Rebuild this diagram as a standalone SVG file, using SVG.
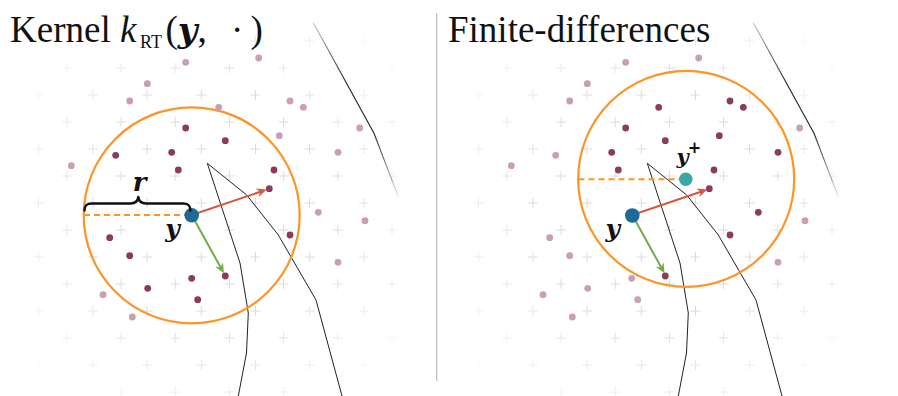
<svg xmlns="http://www.w3.org/2000/svg" xmlns:xlink="http://www.w3.org/1999/xlink" width="898" height="396" viewBox="0 0 898 396">
  <style>
    .title { font-family: "Liberation Serif", "DejaVu Serif", serif; font-size: 37px; fill: #111; }
    .math { font-family: "DejaVu Serif", "Liberation Serif", serif; font-weight: bold; font-style: italic; fill: #111; }
    .grid { fill: none; stroke: #dcdcdc; stroke-width: 1; }
    .contour { fill: none; stroke: #222; stroke-width: 1; stroke-linejoin: round; }
    .dk { fill: #8e3a5a; }
    .lt { fill: #c99fb2; }
    .ball { fill: none; stroke: #fd9426; stroke-width: 2.2; }
    .radius { stroke: #fd9426; stroke-width: 2; stroke-dasharray: 6 4; fill: none; }
    .arr-red { stroke: #d35a3e; stroke-width: 2; fill: none; marker-end: url(#headRed); }
    .arr-green { stroke: #6fae47; stroke-width: 2; fill: none; marker-end: url(#headGreen); }
    .pt-y { fill: #1e6a97; }
    .pt-yp { fill: #37a8a5; }
    .brace { fill: none; stroke: #111; stroke-width: 2.4; stroke-linejoin: round; stroke-linecap: round; }
  </style>
  <defs>
    <path id="rowp" d="M0 0h10m-5-5v10m49.2-5h10m-5-5v10m49.2-5h10m-5-5v10m49.2-5h10m-5-5v10m49.2-5h10m-5-5v10m49.2-5h10m-5-5v10m49.2-5h10m-5-5v10"/>
    <radialGradient id="rg" gradientUnits="userSpaceOnUse" cx="215" cy="210" r="235">
      <stop offset="0" stop-color="#fff"/>
      <stop offset="0.5" stop-color="#fff"/>
      <stop offset="1" stop-color="#222"/>
    </radialGradient>
    <mask id="fade" maskUnits="userSpaceOnUse" x="0" y="0" width="437" height="396">
      <rect x="0" y="0" width="437" height="396" fill="url(#rg)"/>
    </mask>
    <linearGradient id="edgefade" gradientUnits="userSpaceOnUse" x1="313" y1="23" x2="398" y2="197">
      <stop offset="0" stop-color="#222" stop-opacity="0.25"/>
      <stop offset="0.35" stop-color="#222" stop-opacity="1"/>
      <stop offset="0.65" stop-color="#222" stop-opacity="1"/>
      <stop offset="1" stop-color="#222" stop-opacity="0.1"/>
    </linearGradient>
    <marker id="headRed" markerUnits="userSpaceOnUse" markerWidth="12" markerHeight="10" refX="4" refY="5" orient="auto" overflow="visible">
      <path d="M0 0.5L10 5L0 9.5L3 5Z" fill="#d35a3e"/>
    </marker>
    <marker id="headGreen" markerUnits="userSpaceOnUse" markerWidth="12" markerHeight="10" refX="4" refY="5" orient="auto" overflow="visible">
      <path d="M0 0.5L10 5L0 9.5L3 5Z" fill="#6fae47"/>
    </marker>
    <g id="plusgrid">
      <g class="grid" mask="url(#fade)">
        <use href="#rowp" x="33.7" y="41"/>
        <use href="#rowp" x="61.8" y="68"/>
        <use href="#rowp" x="33.7" y="95"/>
        <use href="#rowp" x="61.8" y="122"/>
        <use href="#rowp" x="33.7" y="149"/>
        <use href="#rowp" x="61.8" y="176"/>
        <use href="#rowp" x="33.7" y="203"/>
        <use href="#rowp" x="61.8" y="230"/>
        <use href="#rowp" x="33.7" y="257"/>
        <use href="#rowp" x="61.8" y="284"/>
        <use href="#rowp" x="33.7" y="311"/>
        <use href="#rowp" x="61.8" y="338"/>
        <use href="#rowp" x="33.7" y="365"/>
        <use href="#rowp" x="61.8" y="392"/>
      </g>
    </g>
    <g id="contours">
      <polyline class="contour" points="238.3,396 246.5,353 248.3,313 240,263 207.3,163.3 246.7,195 278.3,235 316,300 342,396"/>
      <polyline points="313.3,22.7 374,133.3 398.3,196.7" fill="none" stroke="url(#edgefade)" stroke-width="1.1"/>
    </g>
  </defs>

  <!-- separator -->
  <line id="separator" x1="436.7" y1="13" x2="436.7" y2="381" stroke="#bdbdbd" stroke-width="1.3"/>

  <!-- ============ LEFT PANEL ============ -->
  <g id="panel-kernel">
    <use href="#plusgrid"/>
    <use href="#contours"/>

    <g id="kernel-ball">
      <circle class="ball" cx="191.7" cy="215.3" r="108"/>
      <line class="radius" x1="84" y1="215" x2="186" y2="215"/>
    </g>

    <g id="samples-left">
      <circle class="lt" cx="185.7" cy="62.3" r="3.4"/>
      <circle class="lt" cx="258.7" cy="58" r="3.4"/>
      <circle class="lt" cx="147.3" cy="83.7" r="3.4"/>
      <circle class="lt" cx="129.7" cy="101" r="3.4"/>
      <circle class="lt" cx="218.7" cy="107.3" r="3.4"/>
      <circle class="lt" cx="290" cy="101" r="3.4"/>
      <circle class="lt" cx="303.3" cy="107.3" r="3.4"/>
      <circle class="lt" cx="359.7" cy="128" r="3.4"/>
      <circle class="lt" cx="279.3" cy="135.7" r="3.4"/>
      <circle class="lt" cx="338" cy="152.3" r="3.4"/>
      <circle class="lt" cx="71.3" cy="165.7" r="3.4"/>
      <circle class="dk" cx="185.7" cy="128" r="3.4"/>
      <circle class="dk" cx="225.3" cy="140.7" r="3.4"/>
      <circle class="dk" cx="115.7" cy="155.3" r="3.4"/>
      <circle class="dk" cx="171.7" cy="152.3" r="3.4"/>
      <circle class="dk" cx="178.3" cy="170" r="3.4"/>
      <circle class="dk" cx="274" cy="170" r="3.4"/>
      <circle class="dk" cx="269.3" cy="188.7" r="3.4"/>
      <circle class="lt" cx="318.3" cy="212.3" r="3.4"/>
      <circle class="lt" cx="365" cy="220.7" r="3.4"/>
      <circle class="dk" cx="109.7" cy="237.7" r="3.4"/>
      <circle class="dk" cx="290" cy="235" r="3.4"/>
      <circle class="dk" cx="129.7" cy="255.7" r="3.4"/>
      <circle class="lt" cx="338" cy="262.3" r="3.4"/>
      <circle class="dk" cx="191.7" cy="278.3" r="3.4"/>
      <circle class="dk" cx="225.3" cy="276" r="3.4"/>
      <circle class="dk" cx="147.7" cy="288.3" r="3.4"/>
      <circle class="lt" cx="103" cy="294.7" r="3.4"/>
      <circle class="dk" cx="197.7" cy="299.7" r="3.4"/>
      <circle class="lt" cx="132.3" cy="317" r="3.4"/>
    </g>

    <g id="connectors-left">
      <line class="arr-red" x1="191.7" y1="215" x2="261" y2="191.5"/>
      <line class="arr-green" x1="191.7" y1="215" x2="221" y2="268.1"/>
    </g>

    <g id="point-y-left">
      <circle class="pt-y" cx="191.7" cy="215.3" r="7.3"/>
      <text class="math" x="172.5" y="237" font-size="25" text-anchor="middle">y</text>
    </g>

    <g id="radius-brace">
      <path class="brace" d="M84.5 210.5C84.5 205.5 86.5 203.5 92 203.5L130.5 203.5C135.5 203.5 137.8 201 138.3 197C138.8 201 141.1 203.5 146.1 203.5L183 203.5C188.5 203.5 190.3 205.5 190.3 210.5"/>
      <text class="math" x="139.5" y="191" font-size="26" text-anchor="middle">r</text>
    </g>

    <text id="title-left" class="title" x="10" y="41.5">Kernel <tspan font-style="italic">k</tspan><tspan x="140" y="48" font-size="18">RT</tspan><tspan x="165.5" y="41.5">(</tspan><tspan font-family="DejaVu Serif, serif" font-size="34" font-weight="bold" font-style="italic">y</tspan><tspan>,</tspan><tspan x="231">·</tspan><tspan x="250.5">)</tspan></text>
  </g>

  <!-- ============ RIGHT PANEL ============ -->
  <g id="panel-fd">
    <g transform="translate(440 0)">
      <use href="#plusgrid"/>
      <use href="#contours"/>
    </g>

    <g id="fd-ball">
      <circle class="ball" cx="686.2" cy="178.9" r="108"/>
      <line class="radius" x1="578.5" y1="179.3" x2="680" y2="179.3"/>
    </g>

    <g id="samples-right" transform="translate(440 0)">
      <circle class="lt" cx="185.7" cy="62.3" r="3.4"/>
      <circle class="lt" cx="258.7" cy="58" r="3.4"/>
      <circle class="lt" cx="147.3" cy="83.7" r="3.4"/>
      <circle class="lt" cx="129.7" cy="101" r="3.4"/>
      <circle class="dk" cx="218.7" cy="107.3" r="3.4"/>
      <circle class="dk" cx="290" cy="101" r="3.4"/>
      <circle class="dk" cx="303.3" cy="107.3" r="3.4"/>
      <circle class="lt" cx="359.7" cy="128" r="3.4"/>
      <circle class="dk" cx="279.3" cy="135.7" r="3.4"/>
      <circle class="dk" cx="338" cy="152.3" r="3.4"/>
      <circle class="lt" cx="71.3" cy="165.7" r="3.4"/>
      <circle class="dk" cx="185.7" cy="128" r="3.4"/>
      <circle class="dk" cx="225.3" cy="140.7" r="3.4"/>
      <circle class="lt" cx="115.7" cy="155.3" r="3.4"/>
      <circle class="dk" cx="171.7" cy="152.3" r="3.4"/>
      <circle class="dk" cx="178.3" cy="170" r="3.4"/>
      <circle class="dk" cx="274" cy="170" r="3.4"/>
      <circle class="dk" cx="269.3" cy="188.7" r="3.4"/>
      <circle class="dk" cx="318.3" cy="212.3" r="3.4"/>
      <circle class="lt" cx="365" cy="220.7" r="3.4"/>
      <circle class="lt" cx="109.7" cy="237.7" r="3.4"/>
      <circle class="dk" cx="290" cy="235" r="3.4"/>
      <circle class="lt" cx="129.7" cy="255.7" r="3.4"/>
      <circle class="lt" cx="338" cy="262.3" r="3.4"/>
      <circle class="lt" cx="191.7" cy="278.3" r="3.4"/>
      <circle class="dk" cx="225.3" cy="276" r="3.4"/>
      <circle class="lt" cx="147.7" cy="288.3" r="3.4"/>
      <circle class="lt" cx="103" cy="294.7" r="3.4"/>
      <circle class="lt" cx="197.7" cy="299.7" r="3.4"/>
      <circle class="lt" cx="132.3" cy="317" r="3.4"/>
    </g>

    <g id="connectors-right" transform="translate(440.6 0)">
      <line class="arr-red" x1="191.7" y1="215" x2="261" y2="191.5"/>
      <line class="arr-green" x1="191.7" y1="215" x2="221" y2="268.1"/>
    </g>

    <g id="point-y-right">
      <circle class="pt-y" cx="632.3" cy="215.5" r="7.3"/>
      <text class="math" x="612.8" y="237" font-size="25" text-anchor="middle">y</text>
    </g>

    <g id="point-yplus">
      <circle class="pt-yp" cx="685.8" cy="179.3" r="6.7"/>
      <text class="math" x="682.5" y="163.5" font-size="21" text-anchor="middle">y</text>
      <text class="math" x="694.5" y="152.5" font-size="16" font-style="normal" text-anchor="middle">+</text>
    </g>

    <text id="title-right" class="title" x="448" y="41.5">Finite-differences</text>
  </g>
</svg>
